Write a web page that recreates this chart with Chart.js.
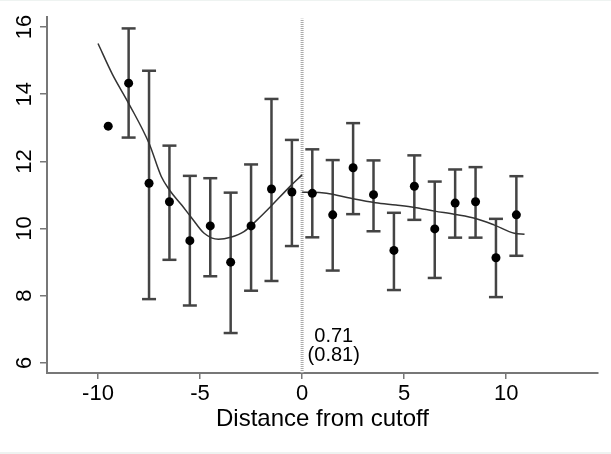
<!DOCTYPE html>
<html>
<head>
<meta charset="utf-8">
<script src="https://cdn.jsdelivr.net/npm/chart.js@4.4.1/dist/chart.umd.min.js"></script>
<style>
  html, body { margin: 0; padding: 0; background: #fff; }
  #wrap { width: 611px; height: 454px; position: relative; }
  #wrap::before, #wrap::after { content: ''; position: absolute; left: 0; width: 611px; background: #eef3f1; }
  #wrap::before { top: 0; height: 1px; }
  #wrap::after { bottom: 0; height: 2px; }
</style>
</head>
<body>
<div id="wrap"><canvas id="chart" width="611" height="454"></canvas></div>
<script>
// bin midpoints and bin means
const binX = [-9.5, -8.5, -7.5, -6.5, -5.5, -4.5, -3.5, -2.5, -1.5, -0.5,
              0.5, 1.5, 2.5, 3.5, 4.5, 5.5, 6.5, 7.5, 8.5, 9.5, 10.5];
const binMean = [13.05, 14.33, 11.35, 10.80, 9.64, 10.08, 9.00, 10.08, 11.18, 11.09,
                 11.05, 10.41, 11.81, 11.01, 9.35, 11.26, 9.99, 10.76, 10.80, 9.13, 10.41];
const ciLow = [null, 12.71, 7.90, 9.07, 7.71, 8.58, 6.89, 8.15, 8.44, 9.48,
               9.74, 8.75, 10.43, 9.92, 8.17, 10.26, 8.53, 9.73, 9.73, 7.96, 9.19];
const ciHigh = [null, 15.96, 14.70, 12.47, 11.57, 11.50, 11.07, 11.91, 13.86, 12.64,
                12.36, 12.04, 13.14, 12.03, 10.47, 12.18, 11.40, 11.76, 11.83, 10.29, 11.56];

// fitted curves, left and right of the cutoff
const fitLeftX = [-10.0, -9.3, -8.5, -7.5, -6.9, -6.5, -5.9, -5.4, -4.8, -4.1, -3.5, -2.85, -2.2, -1.55, -0.6, 0];
const fitLeftY = [15.51, 14.6, 13.73, 12.54, 11.55, 11.15, 10.70, 10.31, 9.86, 9.68, 9.74, 9.91, 10.26, 10.65, 11.25, 11.6];
const fitRightX = [0, 0.5, 1.2, 2.4, 3.6, 4.6, 5.5, 6.5, 7.5, 8.5, 9.4, 10.4, 10.9];
const fitRightY = [11.08, 11.08, 11.05, 10.9, 10.77, 10.70, 10.63, 10.52, 10.42, 10.30, 10.11, 9.86, 9.83];

const xTicks = [-10, -5, 0, 5, 10];
const yTicks = [6, 8, 10, 12, 14, 16];
const estimate = ['0.71', '(0.81)'];
const estimatePos = [1.55, 6.8, 6.22]; // x, y of first line, y of second line

const errorPts = [];
binX.forEach((x, i) => {
  if (ciLow[i] === null) return;
  errorPts.push({x: x, y: ciLow[i]}, {x: x, y: ciHigh[i]}, {x: x, y: null});
});

const font = "'Liberation Sans', Arial, Helvetica, sans-serif";

const yLabels = {
  id: 'yLabels',
  afterDraw(chart) {
    const ctx = chart.ctx, y = chart.scales.y;
    ctx.save();
    ctx.fillStyle = '#000';
    ctx.font = '22px ' + font;
    ctx.textAlign = 'center';
    ctx.textBaseline = 'middle';
    yTicks.forEach(v => {
      ctx.save();
      ctx.translate(25, y.getPixelForValue(v));
      ctx.rotate(-Math.PI / 2);
      ctx.fillText(String(v), 0, 0);
      ctx.restore();
    });
    // estimate text near the cutoff
    const xs = chart.scales.x;
    ctx.font = '20px ' + font;
    ctx.fillText(estimate[0], xs.getPixelForValue(estimatePos[0]), y.getPixelForValue(estimatePos[1]));
    ctx.fillText(estimate[1], xs.getPixelForValue(estimatePos[0]), y.getPixelForValue(estimatePos[2]));
    ctx.restore();
  }
};

new Chart(document.getElementById('chart'), {
  type: 'line',
  data: {
    datasets: [
      {
        label: 'means',
        data: binX.map((x, i) => ({x: x, y: binMean[i]})),
        showLine: false,
        pointRadius: 4.5,
        pointBackgroundColor: '#000',
        pointBorderColor: '#000',
        pointBorderWidth: 0,
        order: 1
      },
      {
        label: 'ci',
        data: errorPts,
        borderColor: '#444',
        borderWidth: 2.5,
        spanGaps: false,
        pointStyle: 'line',
        pointRadius: 7,
        pointBorderColor: '#444',
        pointBorderWidth: 2.5,
        order: 3
      },
      {
        label: 'fitLeft',
        data: fitLeftX.map((x, i) => ({x: x, y: fitLeftY[i]})),
        borderColor: '#333',
        borderWidth: 1.5,
        pointRadius: 0,
        cubicInterpolationMode: 'monotone',
        order: 2
      },
      {
        label: 'fitRight',
        data: fitRightX.map((x, i) => ({x: x, y: fitRightY[i]})),
        borderColor: '#333',
        borderWidth: 1.5,
        pointRadius: 0,
        cubicInterpolationMode: 'monotone',
        order: 2
      },
      {
        label: 'cutoff',
        data: [{x: 0, y: 5.7}, {x: 0, y: 16.25}],
        borderColor: '#aaa',
        borderWidth: 3,
        borderDash: [1, 1],
        pointRadius: 0,
        order: 4
      }
    ]
  },
  options: {
    responsive: false,
    animation: false,
    devicePixelRatio: 1,
    layout: {padding: {top: 17, right: 13, left: 0, bottom: 20}},
    plugins: {legend: {display: false}, tooltip: {enabled: false}},
    scales: {
      x: {
        type: 'linear',
        min: -12.5,
        max: 14.5,
        afterBuildTicks: s => { s.ticks = xTicks.map(v => ({value: v})); },
        afterFit: s => { s.height = 61; },
        border: {color: '#777', width: 2},
        grid: {display: true, drawOnChartArea: false, tickLength: 6, color: '#777', lineWidth: 1.5},
        ticks: {color: '#000', font: {family: font, size: 22}, padding: 2, maxRotation: 0},
        title: {display: true, text: 'Distance from cutoff', color: '#000',
                font: {family: font, size: 24}, padding: {top: 0, bottom: 0}}
      },
      y: {
        type: 'linear',
        min: 5.7,
        max: 16.3,
        afterBuildTicks: s => { s.ticks = yTicks.map(v => ({value: v})); },
        afterFit: s => { s.width = 47; },
        border: {color: '#777', width: 2},
        grid: {display: true, drawOnChartArea: false, tickLength: 7, color: '#777', lineWidth: 1.5},
        ticks: {display: false}
      }
    }
  },
  plugins: [yLabels]
});
</script>
</body>
</html>
